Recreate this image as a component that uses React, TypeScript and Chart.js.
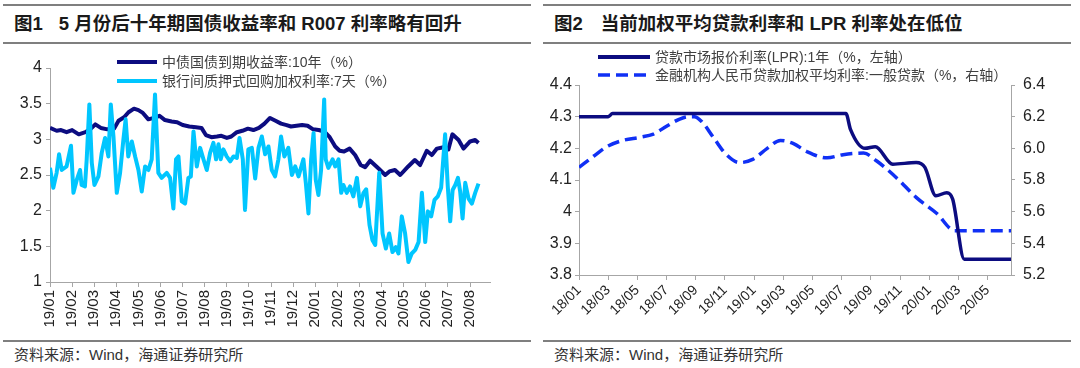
import React, { useEffect, useRef } from "react";
import { Chart, registerables } from "chart.js";

Chart.register(...registerables);

// ---------- Figure 1 data (x = months since 2019-01) ----------
const fig1MonthLabels = [
  "19/01", "19/02", "19/03", "19/04", "19/05", "19/06", "19/07", "19/08", "19/09", "19/10",
  "19/11", "19/12", "20/01", "20/02", "20/03", "20/04", "20/05", "20/06", "20/07", "20/08",
];
const bondName = "中债国债到期收益率:10年（%）";
const bondX = [
  0, 0.3, 0.5, 0.75, 1.0, 1.3, 1.6, 1.85, 2.05, 2.3, 2.6, 2.9, 3.1, 3.35, 3.55, 3.8, 4.0, 4.2, 4.45, 4.7,
  4.95, 5.2, 5.5, 5.75, 6.0, 6.3, 6.6, 6.85, 7.05, 7.3, 7.55, 7.75, 8.0, 8.2, 8.45, 8.7, 8.95, 9.2, 9.45, 9.7,
  9.95, 10.2, 10.45, 10.7, 10.9, 11.15, 11.4, 11.65, 11.9, 12.15, 12.4, 12.65, 12.9, 13.1, 13.3, 13.55, 13.8, 14.05, 14.25, 14.48,
  14.86, 15.16, 15.35, 15.6, 15.84, 16.2, 16.5, 16.74, 17.04, 17.27, 17.5, 17.8, 18.02, 18.2, 18.48, 18.7, 19.0, 19.23, 19.38,
];
const bondY = [
  3.16, 3.12, 3.13, 3.1, 3.13, 3.07, 3.1, 3.15, 3.21, 3.16, 3.14, 3.15, 3.26, 3.31, 3.38, 3.43, 3.41, 3.37, 3.28, 3.3,
  3.33, 3.27, 3.25, 3.24, 3.2, 3.18, 3.17, 3.16, 3.06, 3.03, 3.04, 3.05, 3.02, 3.04, 3.1, 3.12, 3.15, 3.13, 3.16, 3.22,
  3.3, 3.26, 3.22, 3.2, 3.18, 3.19, 3.2, 3.19, 3.14, 3.13, 3.11, 3.03, 2.9, 2.84, 2.83, 2.87, 2.78, 2.64, 2.61, 2.7,
  2.59, 2.5, 2.55, 2.57, 2.5, 2.62, 2.71, 2.64, 2.84, 2.78, 2.87, 2.89, 2.86, 3.07, 2.99, 2.87, 2.97, 2.99, 2.95,
];
const repoName = "银行间质押式回购加权利率:7天（%）";
const repoX = [
  0, 0.15, 0.3, 0.41, 0.53, 0.75, 0.95, 1.06, 1.21, 1.36, 1.43, 1.58, 1.66, 1.78, 1.89, 2.01, 2.19, 2.34, 2.49, 2.64,
  2.75, 2.87, 3.02, 3.17, 3.32, 3.42, 3.54, 3.7, 3.85, 4.0, 4.15, 4.3, 4.45, 4.6, 4.75, 4.9, 5.05, 5.28, 5.43, 5.58,
  5.7, 5.81, 5.96, 6.11, 6.26, 6.37, 6.49, 6.64, 6.79, 6.94, 7.09, 7.24, 7.39, 7.51, 7.62, 7.72, 7.84, 7.99, 8.15, 8.3,
  8.45, 8.57, 8.72, 8.82, 8.97, 9.13, 9.28, 9.43, 9.58, 9.73, 9.88, 10.03, 10.18, 10.33, 10.45, 10.6, 10.78, 10.94, 11.09, 11.24,
  11.46, 11.57, 11.69, 11.81, 11.92, 12.02, 12.14, 12.26, 12.4, 12.47, 12.59, 12.78, 12.9, 13.05, 13.17, 13.27, 13.42, 13.57, 13.72, 13.88,
  14.03, 14.18, 14.3, 14.45, 14.58, 14.71, 14.89, 15.04, 15.19, 15.34, 15.49, 15.64, 15.76, 15.91, 16.06, 16.21, 16.36, 16.52, 16.67, 16.82,
  16.97, 17.09, 17.24, 17.39, 17.54, 17.69, 17.87, 17.99, 18.1, 18.21, 18.33, 18.45, 18.55, 18.66, 18.78, 18.93, 19.08, 19.23, 19.38,
];
const repoY = [
  2.6, 2.32, 2.53, 2.79, 2.57, 2.62, 2.91, 2.25, 2.43, 2.57, 2.36, 2.34, 2.72, 3.49, 2.67, 2.36, 2.48, 2.81, 3.02, 2.76,
  3.49, 3.04, 2.25, 2.53, 3.0, 3.28, 2.76, 2.97, 2.76, 2.57, 2.27, 2.62, 2.57, 2.72, 3.63, 2.53, 2.46, 2.53, 2.46, 2.03,
  2.72, 2.76, 2.13, 2.1, 2.46, 2.48, 3.11, 2.62, 2.88, 2.72, 2.57, 2.81, 2.95, 2.72, 2.93, 2.72, 2.86, 2.76, 2.69, 2.76,
  2.74, 3.02, 2.72, 2.01, 2.86, 2.88, 2.45, 2.88, 3.04, 2.79, 2.9, 2.57, 2.48, 2.72, 3.04, 2.76, 2.88, 2.5, 2.62, 2.48,
  2.72, 2.39, 1.96, 2.72, 3.09, 2.43, 2.22, 2.57, 3.56, 2.72, 2.6, 2.72, 2.62, 2.72, 2.25, 2.36, 2.25, 2.34, 2.2, 2.46,
  2.06, 2.25, 2.3, 1.8, 1.59, 1.52, 2.53, 1.68, 1.47, 1.68, 1.42, 1.49, 1.4, 1.92, 1.68, 1.28, 1.4, 1.45, 1.56, 2.25,
  1.56, 1.99, 1.92, 2.15, 2.2, 2.32, 3.07, 2.34, 1.85, 2.29, 2.36, 2.46, 2.27, 1.89, 2.39, 2.17, 2.1, 2.25, 2.38,
];

// ---------- Figure 2 data (x = months since 2018-01) ----------
const fig2MonthLabels = [
  "18/01", "18/03", "18/05", "18/07", "18/09", "18/11", "19/01", "19/03",
  "19/05", "19/07", "19/09", "19/11", "20/01", "20/03", "20/05",
];
const lprName = "贷款市场报价利率(LPR):1年（%，左轴）";
const lprX = [0, 2.0, 2.3, 18.29, 18.6, 19.6, 20.3, 21.5, 23.1, 23.7, 24.45, 25.2, 25.6, 26.4, 29.6];
const lprY = [4.3, 4.3, 4.31, 4.31, 4.26, 4.2, 4.205, 4.15, 4.155, 4.14, 4.05, 4.06, 4.04, 3.85, 3.85];
const loanName = "金融机构人民币贷款加权平均利率:一般贷款（%，右轴）";
const loanX = [0, 1.0, 1.9, 3.0, 4.2, 5.1, 6.0, 6.9, 7.5, 7.9, 8.4, 9.2, 10.1, 11.0, 11.9, 12.9, 13.8, 14.7, 15.6, 17.0, 18.1, 19.5, 20.4, 21.8, 23.1, 24.5, 25.75, 29.6];
const loanY = [5.88, 5.95, 6.01, 6.05, 6.07, 6.09, 6.14, 6.185, 6.2, 6.2, 6.17, 6.07, 5.96, 5.91, 5.93, 6.0, 6.05, 6.03, 5.98, 5.94, 5.96, 5.97, 5.92, 5.81, 5.69, 5.59, 5.48, 5.48];

const zip = (xs: number[], ys: number[]) => xs.map((x, i) => ({ x, y: ys[i] }));

const LATIN = '"Liberation Sans", Arial, "Noto Sans CJK SC", sans-serif';
const CJK = '"Liberation Sans", "Noto Sans CJK SC", sans-serif';
const AXIS = "#A6A6A6";
const TICK_COLOR = "#222";

const NAVY = "#0C0C80";
const CYAN = "#00C6FF";
const BLUE = "#1030F5";

function FigureOneChart() {
  const ref = useRef<HTMLCanvasElement | null>(null);
  useEffect(() => {
    if (!ref.current) return;
    const chart = new Chart(ref.current, {
      type: "line",
      data: {
        datasets: [
          {
            label: bondName,
            data: zip(bondX, bondY),
            borderColor: NAVY,
            borderWidth: 4,
            pointRadius: 0,
            tension: 0,
            borderJoinStyle: "round",
            order: 1,
          },
          {
            label: repoName,
            data: zip(repoX, repoY),
            borderColor: CYAN,
            borderWidth: 4,
            pointRadius: 0,
            tension: 0,
            borderJoinStyle: "round",
            order: 0,
          },
        ],
      },
      options: {
        animation: false,
        responsive: false,
        maintainAspectRatio: false,
        layout: { padding: { top: 68, right: 50, left: 0, bottom: 0 } },
        plugins: { legend: { display: false }, tooltip: { enabled: false } },
        scales: {
          x: {
            type: "linear",
            min: 0,
            max: 19.9,
            afterFit: (s: any) => {
              s.height = 58;
            },
            ticks: {
              stepSize: 1,
              includeBounds: false,
              autoSkip: false,
              maxRotation: 90,
              minRotation: 90,
              padding: 3,
              color: TICK_COLOR,
              font: { family: LATIN, size: 15 },
              callback: (v: any) => (Number.isInteger(v) ? fig1MonthLabels[v] ?? "" : ""),
            },
            grid: { drawOnChartArea: false, tickLength: 5, color: AXIS },
            border: { color: AXIS, width: 1 },
          },
          y: {
            min: 1,
            max: 4,
            afterFit: (s: any) => {
              s.width = 50;
            },
            ticks: {
              stepSize: 0.5,
              padding: 4,
              color: TICK_COLOR,
              font: { family: LATIN, size: 16 },
              callback: (v: any) => String(Math.round(Number(v) * 10) / 10),
            },
            grid: { drawOnChartArea: false, tickLength: 4, color: AXIS },
            border: { color: AXIS, width: 1 },
          },
        },
      },
    } as any);
    return () => chart.destroy();
  }, []);
  return <canvas ref={ref} width={540} height={340} style={{ position: "absolute", left: 0, top: 0, width: 540, height: 340 }} />;
}

function FigureTwoChart() {
  const ref = useRef<HTMLCanvasElement | null>(null);
  useEffect(() => {
    if (!ref.current) return;
    const chart = new Chart(ref.current, {
      type: "line",
      data: {
        datasets: [
          {
            label: lprName,
            data: zip(lprX, lprY),
            borderColor: NAVY,
            borderWidth: 3.5,
            pointRadius: 0,
            cubicInterpolationMode: "monotone",
            yAxisID: "y",
            order: 0,
          },
          {
            label: loanName,
            data: zip(loanX, loanY),
            borderColor: BLUE,
            borderWidth: 3.5,
            borderDash: [12, 6],
            pointRadius: 0,
            cubicInterpolationMode: "monotone",
            yAxisID: "y2",
            order: 1,
          },
        ],
      },
      options: {
        animation: false,
        responsive: false,
        maintainAspectRatio: false,
        layout: { padding: { top: 85, right: 0, left: 0, bottom: 0 } },
        plugins: { legend: { display: false }, tooltip: { enabled: false } },
        scales: {
          x: {
            type: "linear",
            min: 0,
            max: 29.6,
            afterFit: (s: any) => {
              s.height = 65;
            },
            ticks: {
              stepSize: 2,
              includeBounds: false,
              autoSkip: false,
              maxRotation: 45,
              minRotation: 45,
              padding: 2,
              color: TICK_COLOR,
              font: { family: LATIN, size: 14 },
              callback: (v: any) => (Number.isInteger(v) && v % 2 === 0 ? fig2MonthLabels[v / 2] ?? "" : ""),
            },
            grid: { drawOnChartArea: false, tickLength: 5, color: AXIS },
            border: { color: AXIS, width: 1 },
          },
          y: {
            position: "left",
            min: 3.8,
            max: 4.4,
            afterFit: (s: any) => {
              s.width = 39;
            },
            ticks: {
              stepSize: 0.1,
              padding: 3,
              color: TICK_COLOR,
              font: { family: LATIN, size: 16 },
              callback: (v: any) => String(Math.round(Number(v) * 10) / 10),
            },
            grid: { drawOnChartArea: false, tickLength: 4, color: AXIS },
            border: { color: AXIS, width: 1 },
          },
          y2: {
            position: "right",
            min: 5.2,
            max: 6.4,
            afterFit: (s: any) => {
              s.width = 69;
            },
            ticks: {
              stepSize: 0.2,
              padding: 8,
              color: TICK_COLOR,
              font: { family: LATIN, size: 16 },
              callback: (v: any) => Number(v).toFixed(1),
            },
            grid: { drawOnChartArea: false, tickLength: 4, color: AXIS },
            border: { color: AXIS, width: 1 },
          },
        },
      },
    } as any);
    return () => chart.destroy();
  }, []);
  return <canvas ref={ref} width={540} height={340} style={{ position: "absolute", left: 0, top: 0, width: 540, height: 340 }} />;
}

function LegendItem(props: { left: number; top: number; lineW: number; color: string; dashed?: boolean; text: string }) {
  const { left, top, lineW, color, dashed, text } = props;
  return (
    <div style={{ position: "absolute", left, top: top - 10, height: 20, display: "flex", alignItems: "center", whiteSpace: "nowrap" }}>
      <svg width={lineW} height={8} style={{ display: "block" }}>
        <line
          x1={0}
          y1={4}
          x2={lineW}
          y2={4}
          stroke={color}
          strokeWidth={dashed ? 3.5 : 4}
          strokeDasharray={dashed ? "12 6" : undefined}
        />
      </svg>
      <span style={{ marginLeft: 5, fontSize: 14, color: "#404040", fontFamily: CJK, lineHeight: "20px" }}>{text}</span>
    </div>
  );
}

function Panel(props: { left: number; title: React.ReactNode; children: React.ReactNode }) {
  return (
    <div style={{ position: "absolute", left: props.left, top: 0, width: 540, height: 368 }}>
      <div style={{ position: "absolute", left: 3, top: 4, width: 528, height: 2, background: "#7F7F7F" }} />
      <div
        style={{
          position: "absolute",
          left: 14,
          top: 11,
          height: 26,
          lineHeight: "26px",
          fontSize: 18.5,
          fontWeight: "bold",
          color: "#1A1A1A",
          fontFamily: CJK,
          whiteSpace: "nowrap",
        }}
      >
        {props.title}
      </div>
      <div style={{ position: "absolute", left: 3, top: 42, width: 528, height: 2, background: "#7F7F7F" }} />
      {props.children}
      <div style={{ position: "absolute", left: 3, top: 340, width: 528, height: 2, background: "#7F7F7F" }} />
      <div
        style={{
          position: "absolute",
          left: 14,
          top: 345,
          lineHeight: "20px",
          fontSize: 15,
          color: "#333",
          fontFamily: CJK,
          whiteSpace: "nowrap",
        }}
      >
        资料来源：Wind，海通证券研究所
      </div>
    </div>
  );
}

export default function App() {
  return (
    <div style={{ position: "absolute", left: 0, top: 0, width: 1080, height: 368, background: "#fff", overflow: "hidden" }}>
      <Panel
        left={0}
        title={
          <>
            <span>图1</span>
            <span style={{ marginLeft: 16 }}>5 月份后十年期国债收益率和 R007 利率略有回升</span>
          </>
        }
      >
        <FigureOneChart />
        <LegendItem left={117} top={61.5} lineW={40} color={NAVY} text={bondName} />
        <LegendItem left={117} top={80.5} lineW={40} color={CYAN} text={repoName} />
      </Panel>
      <Panel
        left={540}
        title={
          <>
            <span>图2</span>
            <span style={{ marginLeft: 18 }}>当前加权平均贷款利率和 LPR 利率处在低位</span>
          </>
        }
      >
        <FigureTwoChart />
        <LegendItem left={58} top={56.5} lineW={52} color={NAVY} text={lprName} />
        <LegendItem left={58} top={74.5} lineW={52} color={BLUE} dashed text={loanName} />
      </Panel>
    </div>
  );
}
